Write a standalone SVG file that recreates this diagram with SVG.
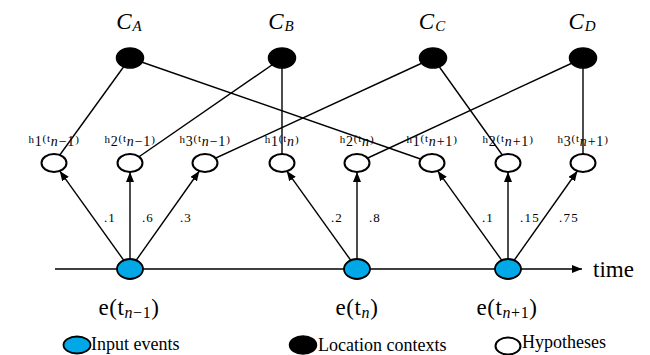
<svg xmlns="http://www.w3.org/2000/svg" width="650" height="355" viewBox="0 0 650 355">
<defs>
<marker id="ah" markerUnits="userSpaceOnUse" markerWidth="11" markerHeight="8" refX="10" refY="4" orient="auto">
<path d="M0,0 L10,4 L0,8 z" fill="#000"/>
</marker>
<style>
.edge{stroke:#000;stroke-width:1.4;fill:none}
.arr{stroke:#000;stroke-width:1.4;fill:none;marker-end:url(#ah)}
.ctx{fill:#000;stroke:#000;stroke-width:1.5}
.hyp{fill:#fff;stroke:#000;stroke-width:2}
.ev{fill:#00A8E8;stroke:#000;stroke-width:1.8}
.cl{font-family:"Liberation Serif",serif;font-style:italic;font-size:23px}
.cl .sb{font-size:15px}
.hl{font-family:"Liberation Serif",serif;font-size:11px;letter-spacing:0.8px}
.hl .b{font-size:14px}
.hl .bi{font-size:14px;font-style:italic}
.el{font-family:"Liberation Serif",serif;font-size:23px;letter-spacing:0.6px}
.el .sb{font-size:16px}
.el .si{font-size:16px;font-style:italic}
.wl{font-family:"Liberation Serif",serif;font-size:13px;letter-spacing:1.2px}
.lg{font-family:"Liberation Serif",serif;font-size:18px}
</style>
</defs>
<g id="connectors">
<line class="edge" x1="130" y1="58" x2="54" y2="163"/>
<line class="edge" x1="130" y1="58" x2="432" y2="163"/>
<line class="edge" x1="282" y1="58" x2="130" y2="163"/>
<line class="edge" x1="282" y1="58" x2="282" y2="163"/>
<line class="edge" x1="433" y1="58" x2="205" y2="163"/>
<line class="edge" x1="433" y1="58" x2="508" y2="163"/>
<line class="edge" x1="583" y1="58" x2="357" y2="163"/>
<line class="edge" x1="583" y1="58" x2="583" y2="163"/>
<line class="arr" x1="55" y1="269" x2="582" y2="269"/>
<line class="arr" x1="130" y1="269" x2="59.7" y2="170.9"/>
<line class="arr" x1="130" y1="269" x2="130" y2="172"/>
<line class="arr" x1="130" y1="269" x2="199.4" y2="171"/>
<line class="arr" x1="357" y1="269" x2="286.7" y2="170.9"/>
<line class="arr" x1="357" y1="269" x2="357" y2="172"/>
<line class="arr" x1="508" y1="269" x2="437.7" y2="170.9"/>
<line class="arr" x1="508" y1="269" x2="508" y2="172"/>
<line class="arr" x1="508" y1="269" x2="577.4" y2="171"/>
</g>
<g id="edge-labels">
<text class="wl" x="110" y="222" text-anchor="middle">.1</text>
<text class="wl" x="148" y="222" text-anchor="middle">.6</text>
<text class="wl" x="186" y="222" text-anchor="middle">.3</text>
<text class="wl" x="337" y="222" text-anchor="middle">.2</text>
<text class="wl" x="375" y="222" text-anchor="middle">.8</text>
<text class="wl" x="488" y="222" text-anchor="middle">.1</text>
<text class="wl" x="530" y="222" text-anchor="middle">.15</text>
<text class="wl" x="569" y="222" text-anchor="middle">.75</text>
</g>
<g id="CA"><ellipse class="ctx" cx="130" cy="58" rx="13.5" ry="10"/><text class="cl" x="129" y="29" text-anchor="middle">C<tspan class="sb" dx="1" dy="2">A</tspan></text></g>
<g id="CB"><ellipse class="ctx" cx="282" cy="58" rx="13.5" ry="10"/><text class="cl" x="281" y="29" text-anchor="middle">C<tspan class="sb" dx="1" dy="2">B</tspan></text></g>
<g id="CC"><ellipse class="ctx" cx="433" cy="58" rx="13.5" ry="10"/><text class="cl" x="432" y="29" text-anchor="middle">C<tspan class="sb" dx="1" dy="2">C</tspan></text></g>
<g id="CD"><ellipse class="ctx" cx="583" cy="58" rx="13.5" ry="10"/><text class="cl" x="582" y="29" text-anchor="middle">C<tspan class="sb" dx="1" dy="2">D</tspan></text></g>
<g id="h1-tn-1"><ellipse class="hyp" cx="54" cy="163" rx="12.5" ry="9"/><text class="hl" x="54" y="143" text-anchor="middle">h<tspan class="b" dy="3">1</tspan><tspan dy="-4">(t</tspan><tspan class="bi" dy="4">n</tspan><tspan class="b">−1</tspan><tspan dy="-3">)</tspan></text></g>
<g id="h2-tn-1"><ellipse class="hyp" cx="130" cy="163" rx="12.5" ry="9"/><text class="hl" x="130" y="143" text-anchor="middle">h<tspan class="b" dy="3">2</tspan><tspan dy="-4">(t</tspan><tspan class="bi" dy="4">n</tspan><tspan class="b">−1</tspan><tspan dy="-3">)</tspan></text></g>
<g id="h3-tn-1"><ellipse class="hyp" cx="205" cy="163" rx="12.5" ry="9"/><text class="hl" x="205" y="143" text-anchor="middle">h<tspan class="b" dy="3">3</tspan><tspan dy="-4">(t</tspan><tspan class="bi" dy="4">n</tspan><tspan class="b">−1</tspan><tspan dy="-3">)</tspan></text></g>
<g id="h1-tn"><ellipse class="hyp" cx="282" cy="163" rx="12.5" ry="9"/><text class="hl" x="282" y="143" text-anchor="middle">h<tspan class="b" dy="3">1</tspan><tspan dy="-4">(t</tspan><tspan class="bi" dy="4">n</tspan><tspan dy="-3">)</tspan></text></g>
<g id="h2-tn"><ellipse class="hyp" cx="357" cy="163" rx="12.5" ry="9"/><text class="hl" x="357" y="143" text-anchor="middle">h<tspan class="b" dy="3">2</tspan><tspan dy="-4">(t</tspan><tspan class="bi" dy="4">n</tspan><tspan dy="-3">)</tspan></text></g>
<g id="h1-tn1"><ellipse class="hyp" cx="432" cy="163" rx="12.5" ry="9"/><text class="hl" x="432" y="143" text-anchor="middle">h<tspan class="b" dy="3">1</tspan><tspan dy="-4">(t</tspan><tspan class="bi" dy="4">n</tspan><tspan class="b">+1</tspan><tspan dy="-3">)</tspan></text></g>
<g id="h2-tn1"><ellipse class="hyp" cx="508" cy="163" rx="12.5" ry="9"/><text class="hl" x="508" y="143" text-anchor="middle">h<tspan class="b" dy="3">2</tspan><tspan dy="-4">(t</tspan><tspan class="bi" dy="4">n</tspan><tspan class="b">+1</tspan><tspan dy="-3">)</tspan></text></g>
<g id="h3-tn1"><ellipse class="hyp" cx="583" cy="163" rx="12.5" ry="9"/><text class="hl" x="583" y="143" text-anchor="middle">h<tspan class="b" dy="3">3</tspan><tspan dy="-4">(t</tspan><tspan class="bi" dy="4">n</tspan><tspan class="b">+1</tspan><tspan dy="-3">)</tspan></text></g>
<g id="e-tn-1"><ellipse class="ev" cx="130" cy="269" rx="13" ry="10"/><text class="el" x="129" y="315" text-anchor="middle">e(t<tspan class="si" dy="3">n</tspan><tspan class="sb">−1</tspan><tspan dy="-3">)</tspan></text></g>
<g id="e-tn"><ellipse class="ev" cx="357" cy="269" rx="13" ry="10"/><text class="el" x="357" y="315" text-anchor="middle">e(t<tspan class="si" dy="3">n</tspan><tspan dy="-3">)</tspan></text></g>
<g id="e-tn1"><ellipse class="ev" cx="508" cy="269" rx="13" ry="10"/><text class="el" x="507" y="315" text-anchor="middle">e(t<tspan class="si" dy="3">n</tspan><tspan class="sb">+1</tspan><tspan dy="-3">)</tspan></text></g>
<g id="axis-label"><text class="lg" x="593" y="277" style="font-size:23px">time</text></g>
<g id="legend">
<ellipse class="ev" cx="77" cy="345" rx="13.5" ry="8.5"/>
<text class="lg" x="91" y="350">Input events</text>
<ellipse class="ctx" cx="303" cy="345" rx="13.5" ry="9"/>
<text class="lg" x="318" y="351">Location contexts</text>
<ellipse class="hyp" cx="508" cy="346" rx="12.5" ry="8.5"/>
<text class="lg" x="522" y="348">Hypotheses</text>
</g>
</svg>
